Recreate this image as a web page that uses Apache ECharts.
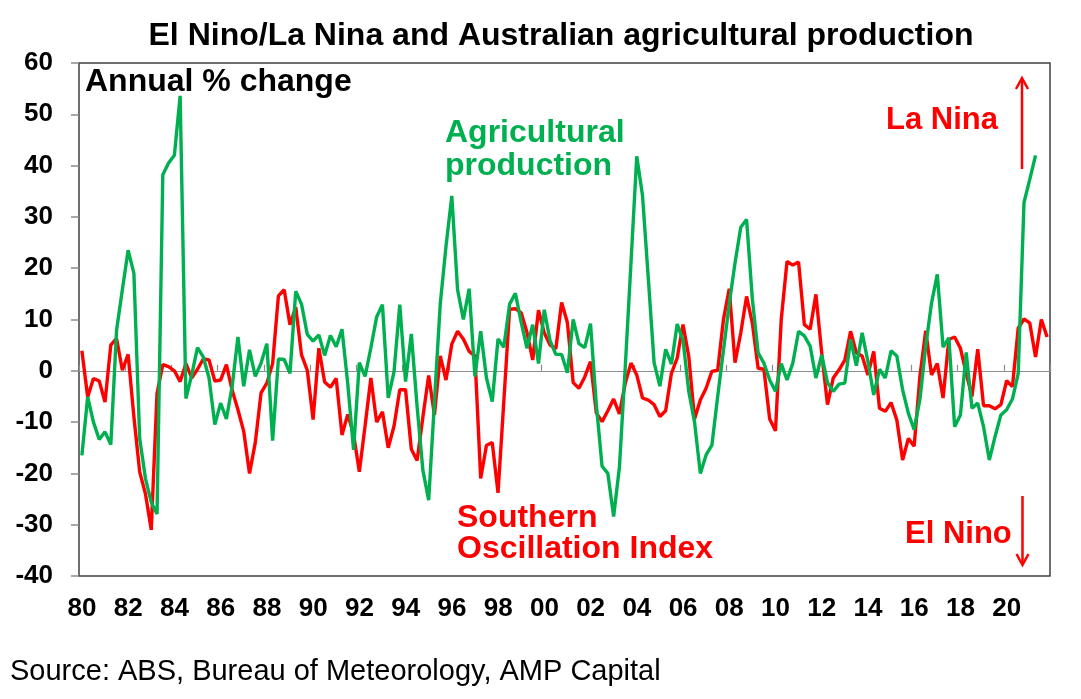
<!DOCTYPE html>
<html lang="en">
<head>
    <meta charset="UTF-8">
    <title>El Nino and agricultural production</title>
    <script src="https://cdn.jsdelivr.net/npm/echarts/dist/echarts.min.js"></script>
    <style>
        *{
            margin: 0;
            padding: 0;
        }
        #box{
            width: 1081px;
            height: 699px;
            background: #fff;
        }
    </style>
</head>
<body>
<div id="box"></div>
<script type="text/javascript">
    // quarterly series, first quarter of 1980 onwards
    const startYear = 1980;
    const soi = [
        3.9, -5.1, -1.5, -2.0, -6.1, 5.0, 6.3, 0.1, 3.2, -9.0,
        -19.7, -24.0, -31.0, -4.4, 1.2, 0.8, 0.0, -2.1, 1.4, -1.4,
        0.3, 2.3, 2.1, -2.0, -1.8, 1.2, -3.8, -7.6, -11.8, -20.0,
        -14.0, -4.3, -2.4, 1.4, 14.6, 15.8, 9.0, 12.4, 3.1, 0.1,
        -9.5, 4.4, -2.2, -3.2, -1.5, -12.5, -8.5, -12.3, -19.7, -10.7,
        -1.4, -10.0, -8.0, -15.0, -10.8, -3.7, -3.7, -15.3, -17.5, -9.0,
        -0.9, -8.6, 2.9, -1.8, 5.2, 7.7, 6.2, 3.8, 2.9, -21.0,
        -14.5, -14.0, -23.8, -6.0, 12.0, 12.1, 11.3, 7.5, 2.1, 11.8,
        7.4, 5.0, 4.3, 13.3, 9.4, -2.3, -3.4, -1.2, 1.8, -8.2,
        -9.9, -7.8, -5.5, -8.4, -2.5, 1.5, -0.8, -5.3, -5.7, -6.6,
        -8.9, -7.8, -0.5, 2.5, 9.0, 2.8, -9.4, -5.7, -3.4, -0.1,
        0.1, 10.0, 16.0, 1.6, 7.4, 14.5, 9.3, 0.5, 0.3, -9.4,
        -11.7, 10.0, 21.3, 20.6, 21.2, 9.0, 8.1, 14.9, 3.5, -6.6,
        -1.4, 0.2, 2.1, 7.7, 3.5, 2.9, -0.8, 3.8, -7.3, -7.9,
        -6.2, -9.6, -17.4, -13.2, -14.7, -1.0, 7.8, -0.8, 1.4, -5.3,
        6.1, 6.6, 4.4, -0.5, -5.0, 4.2, -6.8, -6.8, -7.4, -6.6,
        -1.9, -3.1, 8.3, 10.1, 9.3, 2.7, 10.0, 6.6
    ];
    const agri = [
        -16.5, -5.1, -10.0, -13.4, -11.9, -14.4, 7.9, 15.8, 23.5, 19.0,
        -13.2, -21.0, -25.6, -27.9, 38.2, 40.5, 42.0, 53.6, -5.4, -0.8,
        4.5, 2.7, -1.4, -10.5, -6.3, -9.4, -3.0, 6.6, -3.0, 4.1,
        -1.1, 1.5, 5.3, -13.6, 2.3, 2.2, -0.5, 15.5, 13.0, 7.1,
        5.8, 7.0, 3.0, 6.9, 4.7, 8.1, -2.5, -15.4, 1.6, -1.1,
        4.5, 10.5, 12.9, -5.3, -0.2, 12.9, -2.1, 7.2, -7.0, -19.4,
        -25.2, -6.0, 13.0, 24.3, 34.1, 15.8, 10.0, 16.0, -1.1, 7.7,
        -1.4, -6.0, 6.2, 4.6, 13.0, 15.1, 9.5, 4.4, 9.0, 1.4,
        11.9, 5.9, 3.2, 3.2, -0.4, 10.0, 5.3, 4.5, 9.2, -6.5,
        -18.6, -20.0, -28.4, -18.8, 0.5, 21.0, 41.8, 34.1, 18.0, 1.6,
        -3.0, 4.2, 1.3, 9.1, 6.0, -4.0, -10.0, -20.0, -16.4, -14.5,
        -5.0, 4.0, 13.0, 21.0, 28.0, 29.5, 14.0, 3.5, 1.5, -1.8,
        -4.0, 1.4, -1.8, 1.5, 7.7, 6.8, 4.8, -1.4, 3.1, -2.3,
        -4.0, -2.6, -2.4, 6.1, 1.0, 7.4, 1.8, -4.7, 0.3, -1.4,
        3.9, 2.9, -3.7, -8.3, -11.5, -5.5, 4.8, 13.2, 18.8, 4.6,
        6.4, -10.9, -8.6, 3.6, -7.3, -6.3, -10.9, -17.4, -12.8, -8.6,
        -7.6, -5.5, -0.5, 32.8, 37.3, 42.0
    ];
    const xTickLabels = ['80','82','84','86','88','90','92','94','96','98','00',
        '02','04','06','08','10','12','14','16','18','20'];

    const font = "'Liberation Sans', Arial, sans-serif";
    const red = '#FF0000';
    const green = '#00B050';

    // mid-quarter position on a year axis
    function toPoints(arr) {
        return arr.map((v, i) => [startYear + 0.125 + 0.25 * i, v]);
    }

    let myChart = echarts.init(document.getElementById('box'));

    let option = {
        animation: false,
        grid: {
            left: 79, right: 31, top: 63, bottom: 123,
            show: true,
            borderColor: '#404040',
            borderWidth: 1.5
        },
        xAxis: [{
            type: 'value',
            min: 1980, max: 2022, interval: 2,
            axisLine: {show: false, onZero: false},
            axisTick: {show: false},
            splitLine: {show: false},
            axisLabel: {
                fontFamily: font, fontSize: 26, fontWeight: 'bold', color: '#000',
                margin: 20, padding: [0, 0, 0, 6],
                formatter: v => xTickLabels[Math.round((v - 1980) / 2)] || ''
            }
        }, {
            type: 'value',
            position: 'bottom',
            min: 1980, max: 2022, interval: 2,
            axisLine: {show: true, onZero: true, lineStyle: {color: '#8c8c8c', width: 1.2}},
            axisTick: {show: true, inside: true, length: 6, lineStyle: {color: '#8c8c8c', width: 1.2}},
            axisLabel: {show: false},
            splitLine: {show: false}
        }],
        yAxis: {
            type: 'value',
            min: -40, max: 60, interval: 10,
            axisLine: {show: false},
            axisTick: {show: true, length: 8, lineStyle: {color: '#8c8c8c', width: 1.5}},
            splitLine: {show: false},
            axisLabel: {
                fontFamily: font, fontSize: 26, fontWeight: 'bold', color: '#000', margin: 26
            }
        },
        series: [{
            name: 'Southern Oscillation Index',
            type: 'line',
            data: toPoints(soi),
            showSymbol: false,
            lineStyle: {color: red, width: 3.4}
        }, {
            name: 'Agricultural production',
            type: 'line',
            data: toPoints(agri),
            showSymbol: false,
            lineStyle: {color: green, width: 3.4}
        }],
        graphic: [
            {type: 'text', x: 561, y: 36, style: {text: 'El Nino/La Nina and Australian agricultural production',
                font: 'bold 32px ' + font, fill: '#000', textAlign: 'center', textVerticalAlign: 'middle', align: 'center', verticalAlign: 'middle'}},
            {type: 'text', x: 85, y: 82, style: {text: 'Annual % change',
                font: 'bold 32px ' + font, fill: '#000', textVerticalAlign: 'middle', verticalAlign: 'middle'}},
            {type: 'text', x: 445, y: 133, style: {text: 'Agricultural',
                font: 'bold 32px ' + font, fill: green, textVerticalAlign: 'middle', verticalAlign: 'middle'}},
            {type: 'text', x: 445, y: 166, style: {text: 'production',
                font: 'bold 32px ' + font, fill: green, textVerticalAlign: 'middle', verticalAlign: 'middle'}},
            {type: 'text', x: 457, y: 518, style: {text: 'Southern',
                font: 'bold 32px ' + font, fill: red, textVerticalAlign: 'middle', verticalAlign: 'middle'}},
            {type: 'text', x: 457, y: 549, style: {text: 'Oscillation Index',
                font: 'bold 32px ' + font, fill: red, textVerticalAlign: 'middle', verticalAlign: 'middle'}},
            {type: 'text', x: 886, y: 120, style: {text: 'La Nina',
                font: 'bold 31px ' + font, fill: red, textVerticalAlign: 'middle', verticalAlign: 'middle'}},
            {type: 'text', x: 905, y: 534, style: {text: 'El Nino',
                font: 'bold 31px ' + font, fill: red, textVerticalAlign: 'middle', verticalAlign: 'middle'}},
            {type: 'text', x: 10, y: 672, style: {text: 'Source: ABS, Bureau of Meteorology, AMP Capital',
                font: '29px ' + font, fill: '#000', textVerticalAlign: 'middle', verticalAlign: 'middle'}},
            // arrows
            {type: 'line', shape: {x1: 1022, y1: 169, x2: 1022, y2: 79}, style: {stroke: red, lineWidth: 2.5}},
            {type: 'polyline', shape: {points: [[1016, 89], [1022, 78], [1028, 89]]}, style: {stroke: red, lineWidth: 2.5, fill: null}},
            {type: 'line', shape: {x1: 1022.5, y1: 496, x2: 1022.5, y2: 564}, style: {stroke: red, lineWidth: 2.5}},
            {type: 'polyline', shape: {points: [[1016.5, 554], [1022.5, 565], [1028.5, 554]]}, style: {stroke: red, lineWidth: 2.5, fill: null}}
        ]
    };
    myChart.setOption(option);
</script>
</body>
</html>
